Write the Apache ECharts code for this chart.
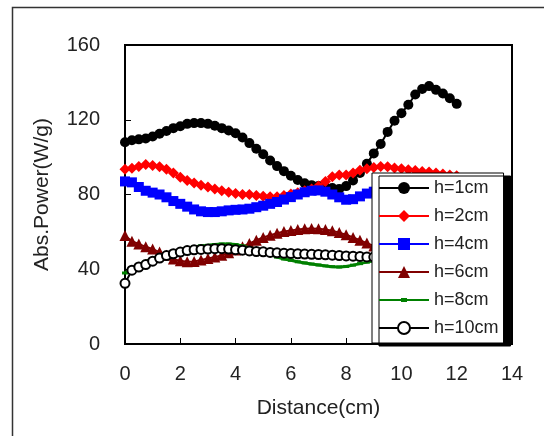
<!DOCTYPE html>
<html>
<head>
<meta charset="utf-8">
<script src="https://cdn.jsdelivr.net/npm/echarts@6/dist/echarts.min.js"></script>
<style>html,body{margin:0;padding:0;background:#fff;}#c{width:544px;height:436px;}</style>
</head>
<body>
<div id="c"></div>
<script>
const distance = [0,0.25,0.5,0.75,1,1.25,1.5,1.75,2,2.25,2.5,2.75,3,3.25,3.5,3.75,4,4.25,4.5,4.75,5,5.25,5.5,5.75,6,6.25,6.5,6.75,7,7.25,7.5,7.75,8,8.25,8.5,8.75,9,9.25,9.5,9.75,10,10.25,10.5,10.75,11,11.25,11.5,11.75,12];
const h1 = [108,109,109.5,110,111,112.5,114,115.5,116.5,117.8,118.2,118.2,117.8,116.8,115.5,114.2,112.8,110.5,107.5,104.5,101.5,98.2,95.2,92.5,90,87.8,86,85,84.5,84,83.5,83,84.5,87.5,91.5,96.5,102,107,113.5,119.5,123.5,128,133.5,136.5,138,136,134,131.5,128.5];
const h2 = [93.5,94,95,96,95.5,94.8,93.5,91.5,89.2,87.5,86.2,85,84,83,82,81.2,80.5,80,80,79.5,79,78.8,78.8,79.5,80.3,81,82,83,84.5,87,89.5,90.5,90.5,91.5,93,93.8,94.5,95,94.8,94.2,93.8,93.2,92.8,92.3,92,91.5,91,90.5,90];
const h4 = [87,86.5,84,82,81,80,78.5,76.5,75,73.5,72,71,70.6,70.6,71,71.5,71.8,72,72.4,73.2,74,75,76,77.3,78.6,80,81.2,82,82.2,81.5,80,78.5,77.2,77.5,79,80.5,81.5,82,82.5,83,83.5,84,84,84,83.5,83,82.5,82,81.5];
const h6 = [58,55,53.5,52,50.8,49.2,47.5,45.5,44.5,44,44.2,45,45.8,46.5,47.5,48.8,50.3,52,53.8,55.5,57,58.2,59.3,60.2,60.8,61.3,61.7,61.8,61.7,61.3,60.6,59.6,58.5,57,55.5,54,52.5,51,49.5,48,47,46,45.5,45,45,45,45.5,46,46.5];
const h8 = [38,40.5,42.5,44.2,45.7,47,48.3,49.5,50.5,51.3,52,52.5,52.8,53.2,53.5,53.5,53.2,52.5,51.5,50.3,49,47.8,46.5,45.5,44.8,44,43.4,42.8,42.3,41.8,41.4,41.2,41.5,42.2,43,43.8,44.5,45.2,45.8,46.2,46.5,46.6,46.6,46.4,46,45.5,45,44.5,44];
const h10 = [32.5,39.5,41.2,42.5,44.3,46,47.3,48.3,49.2,50,50.4,50.6,50.8,51,51,50.8,50.5,50.2,49.8,49.5,49.3,49,48.8,48.6,48.4,48.3,48.1,48,47.9,47.7,47.5,47.3,47.1,47,46.8,46.6,46.5,46.4,46.3,46.2,46.1,46,45.9,45.8,45.7,45.6,45.5,45.4,45.3];
const xTicks = [0,2,4,6,8,10,12,14];
const yTicks = [0,40,80,120,160];
const seriesNames = ['h=1cm','h=2cm','h=4cm','h=6cm','h=8cm','h=10cm'];

const FONT = '"Liberation Sans", Arial, sans-serif';
const TXT = '#222';
function pts(arr){ return distance.map((x,i)=>[x, arr[i]]); }

const styles = [
  {data:h1, color:'#000000', symbol:'circle', size:10, fill:'#000000'},
  {data:h2, color:'#ff0000', symbol:'diamond', size:11, fill:'#ff0000'},
  {data:h4, color:'#0000ff', symbol:'rect', size:10, fill:'#0000ff'},
  {data:h6, color:'#800000', symbol:'triangle', size:11, fill:'#800000'},
  {data:h8, color:'#008000', symbol:'rect', size:[6,3], fill:'#008000'},
  {data:h10, color:'#000000', symbol:'circle', size:9, fill:'#ffffff'}
];

const series = styles.map((s,i)=>({
  name: seriesNames[i],
  type:'line',
  data: pts(s.data),
  symbol: s.symbol,
  symbolSize: s.size,
  showAllSymbol: true,
  animation:false,
  lineStyle:{color:s.color, width: i===4 ? 3 : 2},
  itemStyle:{color:s.fill, borderColor:s.color, borderWidth: i===5 ? 2 : 0},
  z: 2 + i
}));

const legendData = seriesNames.map((n,i)=> i===4
  ? {name:n, icon:'path://M0,0L0.01,0L0.01,0.01Z M0,15L0.01,15L0.01,14.99Z M0,6.5H50V8.5H0Z M22,5.5H28V9.5H22Z'}
  : {name:n});

const chart = echarts.init(document.getElementById('c'), null, {renderer:'canvas'});
chart.setOption({
  backgroundColor:'#ffffff',
  animation:false,
  grid:{left:125, right:32, top:45, bottom:92, show:true, borderColor:'#000', borderWidth:2, backgroundColor:'transparent'},
  xAxis:{
    type:'value', min:xTicks[0], max:xTicks[xTicks.length-1], interval:2,
    name:'Distance(cm)', nameLocation:'middle', nameGap:54,
    nameTextStyle:{fontFamily:FONT, fontSize:21, color:TXT},
    axisLine:{show:true, onZero:false, lineStyle:{color:'#000', width:2}},
    axisTick:{show:true, inside:true, length:6, lineStyle:{color:'#000', width:1}},
    axisLabel:{margin:20, fontFamily:FONT, fontSize:20, color:TXT},
    splitLine:{show:false}
  },
  yAxis:{
    type:'value', min:yTicks[0], max:yTicks[yTicks.length-1], interval:40,
    name:'Abs.Power(W/g)', nameLocation:'middle', nameGap:72,
    nameTextStyle:{fontFamily:FONT, fontSize:21, color:TXT},
    axisLine:{show:true, onZero:false, lineStyle:{color:'#000', width:2}},
    axisTick:{show:true, inside:true, length:6, lineStyle:{color:'#000', width:1}},
    axisLabel:{margin:25, fontFamily:FONT, fontSize:20, color:TXT},
    splitLine:{show:false}
  },
  legend:{
    orient:'vertical', left:372, top:173,
    data: legendData,
    itemWidth:50, itemHeight:15, itemGap:8,
    padding:[5,5,5,6],
    backgroundColor:'#ffffff', borderColor:'#000', borderWidth:1, borderRadius:0,
    shadowColor:'#000', shadowBlur:0, shadowOffsetX:7, shadowOffsetY:3,
    textStyle:{fontFamily:FONT, fontSize:18, color:TXT, lineHeight:20},
    z:20
  },
  graphic:[{
    type:'polyline', silent:true, z:0,
    shape:{points:[[12.5,436],[12.5,7.5],[544,7.5]]},
    style:{stroke:'#333', lineWidth:1.5, fill:null}
  }],
  series: series
});
</script>
</body>
</html>
